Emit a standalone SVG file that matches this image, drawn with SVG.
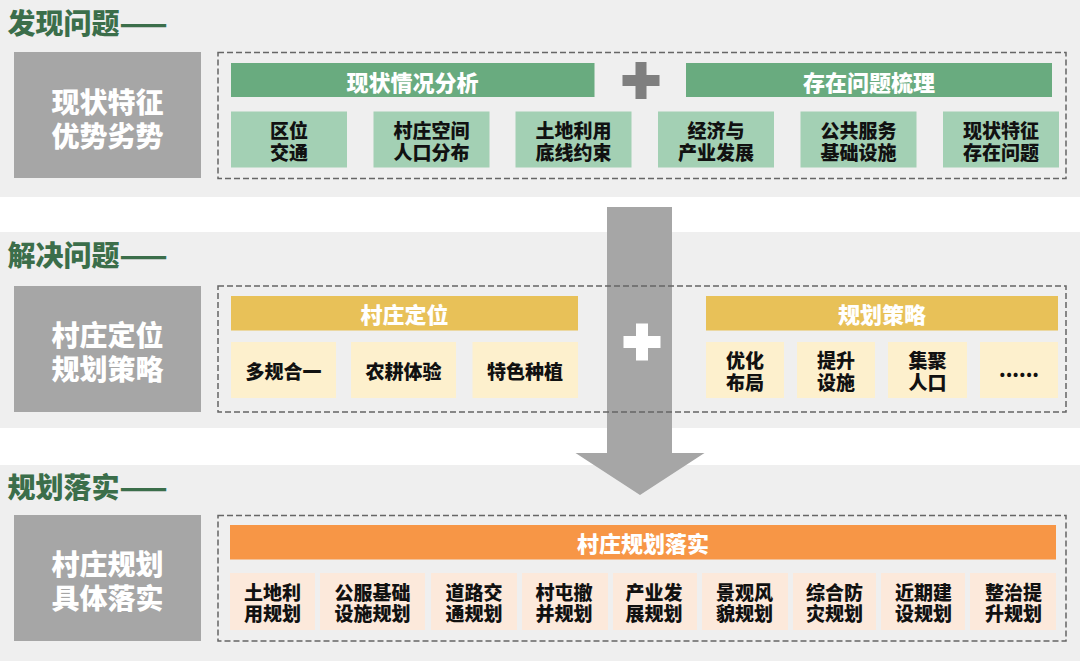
<svg xmlns="http://www.w3.org/2000/svg" width="1080" height="661" viewBox="0 0 1080 661">
<style>
text{font-family:"Noto Sans CJK SC","Noto Sans",sans-serif;font-weight:700;text-anchor:middle;dominant-baseline:central}
.band{fill:#efefef}
.title{font-size:28px;fill:#3b6e4a;text-anchor:start;font-weight:900}
.side{fill:#a6a6a6}
.sidet{font-size:28px;fill:#ffffff;font-weight:900}
.dash{fill:none;stroke:#666666;stroke-width:1.5;stroke-dasharray:6 3}
.hg{fill:#69ab7f}
.sg{fill:#a3d0b4}
.hy{fill:#e8c158}
.sy{fill:#fdf0cd}
.ho{fill:#f79646}
.so{fill:#fce9db}
.ht{font-size:22px;fill:#ffffff;font-weight:900}
.st{font-size:19px;fill:#111111;font-weight:900}
</style>
<rect width="1080" height="661" fill="#ffffff"/>
<rect class="band" x="0" y="0" width="1080" height="197"/>
<rect class="band" x="0" y="232" width="1080" height="196"/>
<rect class="band" x="0" y="465" width="1080" height="196"/>

<g id="connectors">
<path d="M607 207 H672 V453 H704.5 L640 495 L575.5 453 H607 Z" fill="#a6a6a6"/>
</g>

<g id="sec1">
<text class="title" x="7.5" y="21.5">发现问题——</text>
<g id="side1"><rect class="side" x="14" y="52" width="187" height="126"/><text class="sidet"><tspan x="107.5" y="101">现状特征</tspan><tspan x="107.5" y="135">优势劣势</tspan></text></g>
<rect class="dash" x="218" y="52.5" width="848" height="126"/>
<g id="h1a"><rect class="hg" x="231" y="63" width="363.5" height="34"/><text class="ht" x="412.5" y="80.5">现状情况分析</text></g>
<path id="plus1" d="M635.5 62 h11 v13 h13 v11 h-13 v13 h-11 v-13 h-13 v-11 h13 Z" fill="#7f7f7f"/>
<g id="h1b"><rect class="hg" x="686" y="63" width="366" height="34"/><text class="ht" x="869" y="80.5">存在问题梳理</text></g>
<g id="s1a"><rect class="sg" x="231" y="111.5" width="116" height="56"/><text class="st"><tspan x="289" y="129">区位</tspan><tspan x="289" y="151">交通</tspan></text></g>
<g id="s1b"><rect class="sg" x="373.5" y="111.5" width="116" height="56"/><text class="st"><tspan x="431.5" y="129">村庄空间</tspan><tspan x="431.5" y="151">人口分布</tspan></text></g>
<g id="s1c"><rect class="sg" x="515.5" y="111.5" width="116" height="56"/><text class="st"><tspan x="573.5" y="129">土地利用</tspan><tspan x="573.5" y="151">底线约束</tspan></text></g>
<g id="s1d"><rect class="sg" x="658" y="111.5" width="116" height="56"/><text class="st"><tspan x="716" y="129">经济与</tspan><tspan x="716" y="151">产业发展</tspan></text></g>
<g id="s1e"><rect class="sg" x="800.5" y="111.5" width="116" height="56"/><text class="st"><tspan x="858.5" y="129">公共服务</tspan><tspan x="858.5" y="151">基础设施</tspan></text></g>
<g id="s1f"><rect class="sg" x="943" y="111.5" width="116" height="56"/><text class="st"><tspan x="1001" y="129">现状特征</tspan><tspan x="1001" y="151">存在问题</tspan></text></g>
</g>

<g id="sec2">
<text class="title" x="7.5" y="253.5">解决问题——</text>
<g id="side2"><rect class="side" x="14" y="286" width="187" height="126"/><text class="sidet"><tspan x="107.5" y="334">村庄定位</tspan><tspan x="107.5" y="368">规划策略</tspan></text></g>
<rect class="dash" x="218" y="286" width="848" height="126"/>
<g id="h2a"><rect class="hy" x="231" y="296" width="347" height="34.5"/><text class="ht" x="404.5" y="313">村庄定位</text></g>
<path id="plus2" d="M636 323.5 h12 v12.5 h12.5 v12 h-12.5 v12.5 h-12 v-12.5 h-12.5 v-12 h12.5 Z" fill="#ffffff"/>
<g id="h2b"><rect class="hy" x="706" y="296" width="352" height="34.5"/><text class="ht" x="882" y="313">规划策略</text></g>
<g id="s2a"><rect class="sy" x="231" y="342" width="105" height="56"/><text class="st" x="283.5" y="370">多规合一</text></g>
<g id="s2b"><rect class="sy" x="351" y="342" width="105" height="56"/><text class="st" x="403.5" y="370">农耕体验</text></g>
<g id="s2c"><rect class="sy" x="472.5" y="342" width="105.5" height="56"/><text class="st" x="525" y="370">特色种植</text></g>
<g id="s2d"><rect class="sy" x="706" y="342" width="78" height="56"/><text class="st"><tspan x="745" y="359">优化</tspan><tspan x="745" y="381">布局</tspan></text></g>
<g id="s2e"><rect class="sy" x="797" y="342" width="78" height="56"/><text class="st"><tspan x="836" y="359">提升</tspan><tspan x="836" y="381">设施</tspan></text></g>
<g id="s2f"><rect class="sy" x="888" y="342" width="79" height="56"/><text class="st"><tspan x="927.5" y="359">集聚</tspan><tspan x="927.5" y="381">人口</tspan></text></g>
<g id="s2g"><rect class="sy" x="980" y="342" width="78" height="56"/><text class="st" x="1019" y="368">......</text></g>
</g>

<g id="sec3">
<text class="title" x="7.5" y="486">规划落实——</text>
<g id="side3"><rect class="side" x="14" y="515" width="187" height="126"/><text class="sidet"><tspan x="107.5" y="563">村庄规划</tspan><tspan x="107.5" y="597">具体落实</tspan></text></g>
<rect class="dash" x="218" y="515.5" width="848" height="125.5"/>
<g id="h3"><rect class="ho" x="230" y="525" width="826" height="34.5"/><text class="ht" x="643" y="542">村庄规划落实</text></g>
<g id="s3a"><rect class="so" x="230" y="573" width="85" height="57"/><text class="st"><tspan x="272.5" y="591">土地利</tspan><tspan x="272.5" y="612">用规划</tspan></text></g>
<g id="s3b"><rect class="so" x="320" y="573" width="105" height="57"/><text class="st"><tspan x="372.5" y="591">公服基础</tspan><tspan x="372.5" y="612">设施规划</tspan></text></g>
<g id="s3c"><rect class="so" x="431" y="573" width="86" height="57"/><text class="st"><tspan x="474" y="591">道路交</tspan><tspan x="474" y="612">通规划</tspan></text></g>
<g id="s3d"><rect class="so" x="522" y="573" width="86" height="57"/><text class="st"><tspan x="564" y="591">村屯撤</tspan><tspan x="564" y="612">并规划</tspan></text></g>
<g id="s3e"><rect class="so" x="613" y="573" width="84" height="57"/><text class="st"><tspan x="654" y="591">产业发</tspan><tspan x="654" y="612">展规划</tspan></text></g>
<g id="s3f"><rect class="so" x="702" y="573" width="86" height="57"/><text class="st"><tspan x="744.5" y="591">景观风</tspan><tspan x="744.5" y="612">貌规划</tspan></text></g>
<g id="s3g"><rect class="so" x="793" y="573" width="83" height="57"/><text class="st"><tspan x="834.5" y="591">综合防</tspan><tspan x="834.5" y="612">灾规划</tspan></text></g>
<g id="s3h"><rect class="so" x="881" y="573" width="84" height="57"/><text class="st"><tspan x="923.5" y="591">近期建</tspan><tspan x="923.5" y="612">设规划</tspan></text></g>
<g id="s3i"><rect class="so" x="970" y="573" width="86" height="57"/><text class="st"><tspan x="1013.5" y="591">整治提</tspan><tspan x="1013.5" y="612">升规划</tspan></text></g>
</g>
</svg>
